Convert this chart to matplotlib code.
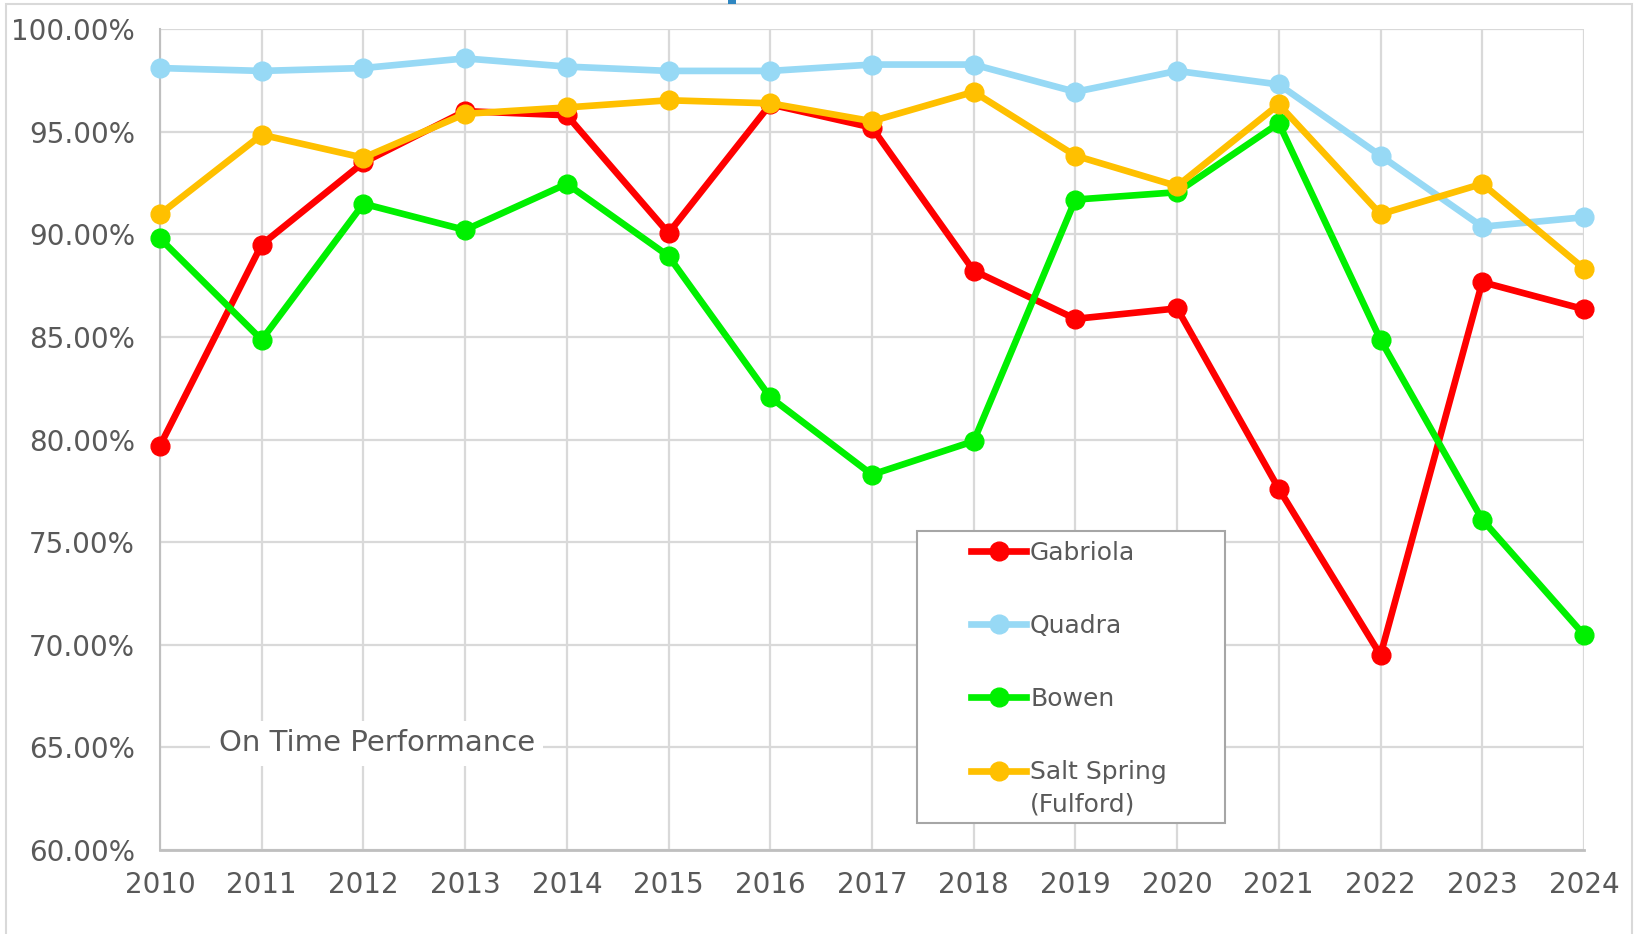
import numpy as np
import matplotlib
matplotlib.use("Agg")
import matplotlib.pyplot as plt
from matplotlib.patches import Rectangle
from matplotlib.legend_handler import HandlerLine2D
from matplotlib.ticker import FuncFormatter

years = np.arange(2010, 2025)

gabriola = [79.7, 89.5, 93.5, 96.0, 95.8, 90.06, 96.33, 95.2, 88.23, 85.88,
            86.39, 77.6, 69.5, 87.67, 86.35]
quadra = [98.1, 97.96, 98.1, 98.57, 98.17, 97.96, 97.96, 98.27, 98.27, 96.94,
          97.96, 97.3, 93.83, 90.37, 90.83]
bowen = [89.8, 84.86, 91.49, 90.21, 92.46, 88.94, 82.06, 78.29, 79.92, 91.69,
         92.05, 95.41, 84.86, 76.1, 70.49]
salt_spring = [90.98, 94.85, 93.73, 95.87, 96.18, 96.53, 96.38, 95.51, 96.94,
               93.83, 92.35, 96.33, 90.98, 92.46, 88.33]

series_names = ["Gabriola", "Quadra", "Bowen", "Salt Spring\n(Fulford)"]
series_values = [gabriola, quadra, bowen, salt_spring]
series_colors = ["#FF0000", "#97D9F5", "#00F000", "#FFC000"]

text_color = "#595959"
grid_color = "#D9D9D9"


class ShiftedHandler(HandlerLine2D):
    # moves the legend handle up so it sits on the first line of a 2-line label
    def __init__(self, shift=0, **kw):
        super().__init__(**kw)
        self.shift = shift

    def create_artists(self, legend, orig_handle, xdescent, ydescent,
                       width, height, fontsize, trans):
        return super().create_artists(legend, orig_handle, xdescent,
                                      ydescent - 2 * self.shift, width, height,
                                      fontsize, trans)


fig = plt.figure(figsize=(16.39, 9.34), dpi=100)
ax = fig.add_axes([0.0976, 0.0899, 0.8688, 0.8790])

lines = []
for name, vals, col in zip(series_names, series_values, series_colors):
    ln, = ax.plot(years, vals, color=col, lw=4.8, marker="o", ms=13.5,
                  label=name, clip_on=False, zorder=3)
    lines.append(ln)

ax.set_xlim(2010, 2024)
ax.set_ylim(60, 100)
ax.set_xticks(years)
ax.set_yticks(np.arange(60, 100.1, 5))
ax.yaxis.set_major_formatter(FuncFormatter(lambda v, p: f"{v:.2f}%"))

ax.grid(True, color=grid_color, lw=1.6)
ax.set_axisbelow(True)
for s in ["top", "right"]:
    ax.spines[s].set_visible(False)
ax.spines["left"].set_color("#BFBFBF")
ax.spines["left"].set_linewidth(1.5)
ax.spines["bottom"].set_color("#BFBFBF")
ax.spines["bottom"].set_linewidth(2)
ax.tick_params(length=0, labelsize=20, colors=text_color)
ax.tick_params(axis="y", pad=18)
ax.tick_params(axis="x", pad=15)

ax.text(0.1524, 0.13, "On Time Performance", transform=ax.transAxes,
        ha="center", va="center", fontsize=21, color=text_color,
        bbox=dict(facecolor="white", edgecolor="none", pad=6), zorder=4)

# legend frame drawn separately so the padding can differ per side
ax.add_patch(Rectangle((0.5316, 0.0329), 0.2163, 0.3557, transform=ax.transAxes,
                       facecolor="white", edgecolor="#A6A6A6", lw=1.5,
                       zorder=5, clip_on=False))
handler_map = {lines[3]: ShiftedHandler(shift=13.5)}
leg = ax.legend(handles=lines, loc="upper left", bbox_to_anchor=(0.5698, 0.377),
                frameon=False, fontsize=18, handlelength=2.2, handletextpad=0.15,
                labelspacing=1.97, borderpad=0, borderaxespad=0,
                handler_map=handler_map, labelcolor=text_color)
leg.get_texts()[3].set_linespacing(1.45)
leg.set_zorder(6)

# outer chart border and clipped title fragment at the top
fig.patches.append(Rectangle((6 / 1639, -0.1), 1626 / 1639, 1.1 - 4 / 934,
                             transform=fig.transFigure, fill=False,
                             edgecolor="#D9D9D9", lw=1.5))
fig.patches.append(Rectangle((728 / 1639, 1 - 4 / 934), 8 / 1639, 4 / 934,
                             transform=fig.transFigure, facecolor="#2E86C1",
                             edgecolor="none"))

fig.savefig("out.png", dpi=100, facecolor="white")
